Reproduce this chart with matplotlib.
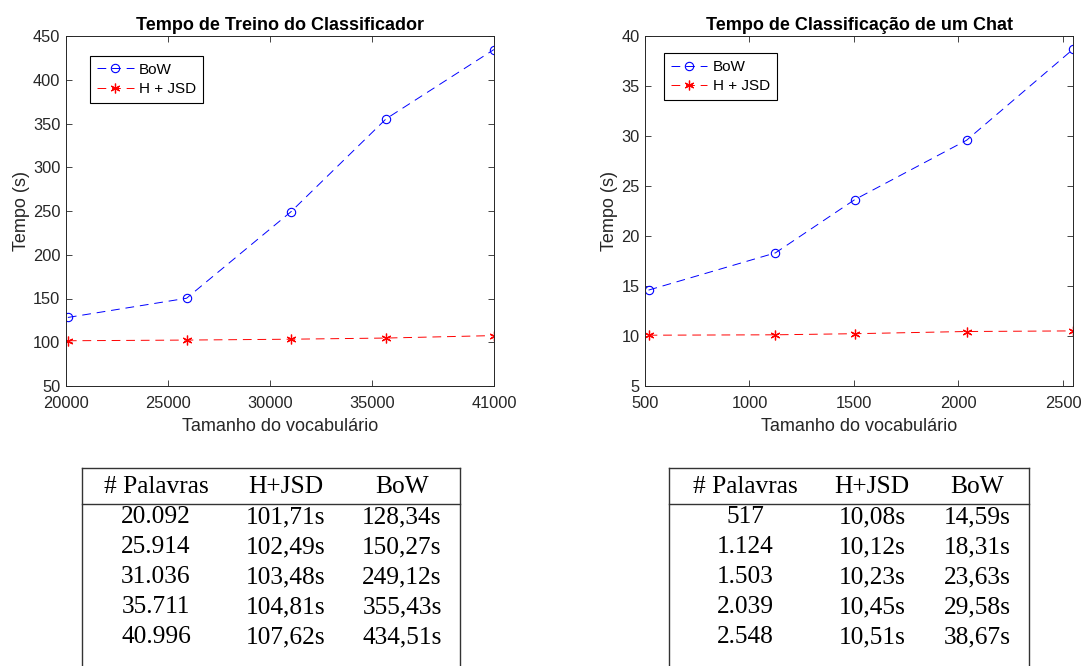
import matplotlib.pyplot as plt

# Tempo de treino (gráfico da esquerda)
vocab_treino = [20092, 25914, 31036, 35711, 40996]
bow_treino = [128.34, 150.27, 249.12, 355.43, 434.51]
hjsd_treino = [101.71, 102.49, 103.48, 104.81, 107.62]

# Tempo de classificação de um chat (gráfico da direita)
vocab_chat = [517, 1124, 1503, 2039, 2548]
bow_chat = [14.59, 18.31, 23.63, 29.58, 38.67]
hjsd_chat = [10.08, 10.12, 10.23, 10.45, 10.51]

xticks_treino = [20000, 25000, 30000, 35000, 41000]
xticks_chat = [500, 1000, 1500, 2000, 2500]
header = ["# Palavras", "H+JSD", "BoW"]

plt.rcParams['font.family'] = ['Liberation Sans', 'DejaVu Sans']

W, H = 1083, 666
fig = plt.figure(figsize=(W / 100, H / 100), dpi=100)

GRAY = "#262626"


def px_axes(x0, x1, y0, y1):
    return fig.add_axes([x0 / W, 1 - y1 / H, (x1 - x0) / W, (y1 - y0) / H])


def style(ax, title, xlim, ylim, xticks, yticks):
    ax.set_xlim(*xlim)
    ax.set_ylim(*ylim)
    ax.set_xticks(xticks)
    ax.set_yticks(yticks)
    ax.tick_params(direction="in", top=True, right=True, length=4, width=0.6,
                   colors=GRAY, labelsize=11.8)
    ax.tick_params(axis="x", pad=7)
    ax.tick_params(axis="y", pad=4)
    for s in ax.spines.values():
        s.set_color(GRAY)
        s.set_linewidth(0.7)
    ax.set_title(title, fontsize=13, fontweight="bold", pad=4, color="black")
    ax.set_xlabel("Tamanho do vocabulário", fontsize=13, color=GRAY, labelpad=5)
    ax.set_ylabel("Tempo (s)", fontsize=13, color=GRAY, labelpad=2)


def draw_lines(ax, x, bow, hjsd, anchor):
    ax.plot(x, bow, color="blue", linestyle=(0, (9, 6)), linewidth=0.7,
            marker="o", markersize=6, markerfacecolor="none",
            markeredgewidth=0.8, label="BoW")
    ax.plot(x, hjsd, color="red", linestyle=(0, (9, 6)), linewidth=0.7,
            marker=(6, 2, 0), markersize=7, markeredgewidth=0.9,
            label="H + JSD")
    leg = ax.legend(loc="upper left", bbox_to_anchor=anchor, fontsize=11,
                    fancybox=False, framealpha=1, handlelength=2.4,
                    handletextpad=0.35, borderpad=0.45, labelspacing=0.35,
                    borderaxespad=0)
    leg.get_frame().set_edgecolor("black")
    leg.get_frame().set_linewidth(0.8)


ax1 = px_axes(66, 494, 36, 386)
draw_lines(ax1, vocab_treino, bow_treino, hjsd_treino, (0.056, 0.943))
style(ax1, "Tempo de Treino do Classificador", (20000, 41000), (50, 450),
      xticks_treino, range(50, 451, 50))

ax2 = px_axes(645, 1073, 36, 386)
draw_lines(ax2, vocab_chat, bow_chat, hjsd_chat, (0.044, 0.951))
style(ax2, "Tempo de Classificação de um Chat", (500, 2548), (5, 40),
      xticks_chat, range(5, 41, 5))

# tabelas por baixo dos gráficos, em coordenadas de pixel
tab = fig.add_axes([0, 0, 1, 1])
tab.set_xlim(0, W)
tab.set_ylim(H, 0)
tab.axis("off")


def fmt_words(n):
    return f"{n:,}".replace(",", ".")


def fmt_time(v):
    return f"{v:.2f}".replace(".", ",") + "s"


def draw_table(x0, x1, cols, words, hjsd, bow):
    kw = dict(color="#333333", linewidth=1.0)
    tab.plot([x0, x1], [467.5, 467.5], **kw)
    tab.plot([x0, x1], [504, 504], **kw)
    tab.plot([x0, x0], [467.5, H], **kw)
    tab.plot([x1, x1], [467.5, H], **kw)
    tfont = dict(family="Liberation Serif", fontsize=18.3, ha="center",
                 va="center", color="black")
    for cx, txt in zip(cols, header):
        tab.text(cx, 487, txt, **tfont)
    for i in range(len(words)):
        y = 517 + 30 * i
        tab.text(cols[0], y, fmt_words(words[i]), **tfont)
        tab.text(cols[1], y, fmt_time(hjsd[i]), **tfont)
        tab.text(cols[2], y, fmt_time(bow[i]), **tfont)


draw_table(82, 460, [156, 286, 402], vocab_treino, hjsd_treino, bow_treino)
draw_table(669, 1029, [745, 872, 977], vocab_chat, hjsd_chat, bow_chat)

fig.savefig("out.png", dpi=100)
